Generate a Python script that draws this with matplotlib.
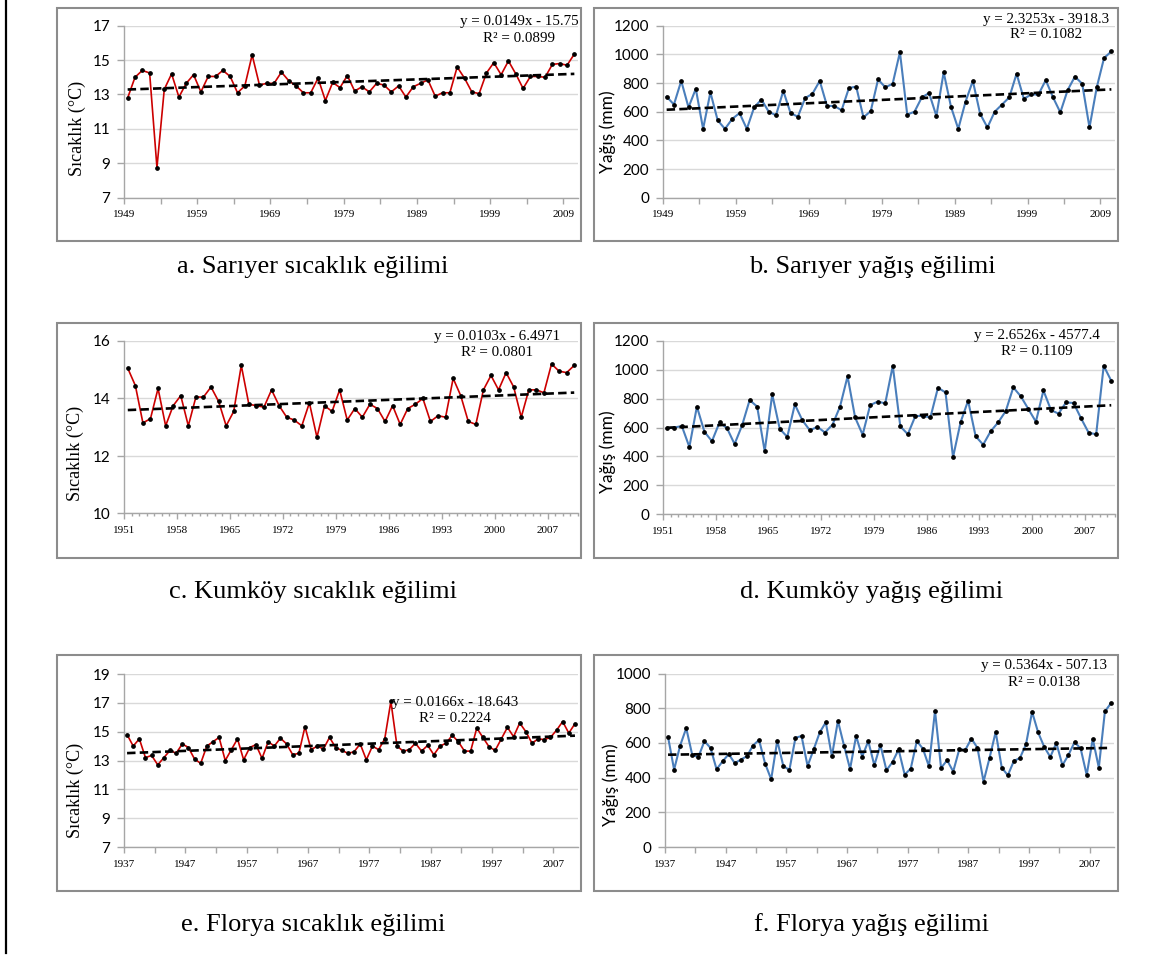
import numpy as np
import matplotlib
matplotlib.use("Agg")
import matplotlib.pyplot as plt
from matplotlib.patches import Rectangle
from matplotlib.lines import Line2D

# --- data ---
sariyer_start = 1949
sariyer_temp = [12.8, 14.0, 14.4, 14.25, 8.75, 13.3, 14.2, 12.85, 13.65, 14.15,
                13.15, 14.05, 14.05, 14.4, 14.05, 13.1, 13.5, 15.3, 13.55, 13.65,
                13.65, 14.3, 13.8, 13.5, 13.1, 13.1, 13.95, 12.65, 13.7, 13.4,
                14.1, 13.2, 13.45, 13.15, 13.65, 13.55, 13.15, 13.5, 12.85, 13.45,
                13.65, 13.85, 12.9, 13.1, 13.1, 14.6, 13.95, 13.15, 13.05, 14.25,
                14.85, 14.15, 14.95, 14.2, 13.35, 14.05, 14.05, 14.0, 14.75, 14.8,
                14.7, 15.35]
sariyer_prec = [705, 650, 815, 630, 760, 480, 735, 540, 480, 550,
                590, 480, 630, 685, 600, 575, 745, 590, 565, 695,
                725, 815, 640, 640, 610, 765, 775, 560, 605, 825,
                770, 795, 1015, 580, 600, 700, 730, 570, 875, 635,
                480, 670, 815, 585, 490, 600, 650, 700, 865, 690,
                720, 720, 820, 700, 595, 750, 845, 795, 490, 770,
                975, 1020]

kumkoy_start = 1951
kumkoy_temp = [15.05, 14.45, 13.15, 13.3, 14.35, 13.05, 13.75, 14.1, 13.05, 14.05,
               14.05, 14.4, 13.9, 13.05, 13.55, 15.15, 13.8, 13.75, 13.7, 14.3,
               13.75, 13.35, 13.25, 13.05, 13.85, 12.65, 13.75, 13.55, 14.3, 13.25,
               13.65, 13.35, 13.8, 13.65, 13.2, 13.75, 13.1, 13.65, 13.8, 14.0,
               13.2, 13.4, 13.35, 14.7, 14.1, 13.2, 13.1, 14.3, 14.8, 14.3,
               14.9, 14.4, 13.35, 14.3, 14.3, 14.2, 15.2, 14.95, 14.9, 15.15]
kumkoy_prec = [595, 600, 610, 465, 745, 570, 505, 635, 595, 485,
               615, 790, 745, 435, 830, 590, 535, 760, 650, 580,
               605, 565, 620, 745, 955, 670, 550, 755, 780, 767,
               1028, 608, 553, 680, 680, 670, 876, 843, 394, 636,
               786, 539, 481, 574, 636, 714, 878, 816, 728, 640,
               857, 721, 696, 774, 770, 663, 564, 553, 1028, 924]

florya_start = 1937
florya_temp = [14.8, 14.0, 14.5, 13.2, 13.35, 12.7, 13.2, 13.7, 13.5, 14.15,
               13.9, 13.1, 12.8, 14.0, 14.3, 14.6, 13.0, 13.75, 14.5, 13.05,
               13.9, 14.1, 13.15, 14.3, 14.0, 14.55, 14.15, 13.4, 13.5, 15.35,
               13.75, 14.0, 13.8, 14.6, 13.9, 13.7, 13.5, 13.6, 14.15, 13.05,
               14.0, 13.75, 14.5, 17.1, 14.0, 13.65, 13.75, 14.2, 13.65, 14.05,
               13.4, 14.0, 14.2, 14.75, 14.3, 13.65, 13.65, 15.25, 14.6, 13.95,
               13.7, 14.5, 15.3, 14.65, 15.6, 15.0, 14.2, 14.5, 14.45, 14.6,
               15.1, 15.7, 14.9, 15.55]
florya_prec = [635, 446, 585, 685, 529, 519, 610, 571, 448, 494,
               535, 483, 504, 523, 585, 617, 481, 390, 613, 467,
               444, 629, 640, 467, 562, 660, 719, 523, 727, 585,
               450, 640, 521, 610, 471, 588, 442, 490, 562, 417,
               452, 610, 567, 465, 785, 456, 500, 435, 563, 560,
               625, 571, 377, 515, 663, 458, 413, 496, 513, 592,
               779, 660, 577, 519, 600, 471, 531, 604, 568, 415,
               623, 457, 781, 829]

# trend line equations printed on the charts
slopes = [0.0149, 2.3253, 0.0103, 2.6526, 0.0166, 0.5364]
intercepts = [-15.75, -3918.3, -6.4971, -4577.4, -18.643, -507.13]
r2_values = [0.0899, 0.1082, 0.0801, 0.1109, 0.2224, 0.0138]

captions = ["a. Sarıyer sıcaklık eğilimi", "b. Sarıyer yağış eğilimi",
            "c. Kumköy sıcaklık eğilimi", "d. Kumköy yağış eğilimi",
            "e. Florya sıcaklık eğilimi", "f. Florya yağış eğilimi"]

W, H = 1169, 955
SERIF = "Liberation Serif"
SANS = "Lato"
RED = "#CC0000"
BLUE = "#4A7EBB"

# per panel: start year, values, kind, label step, minor step, y range, y step
panels = [
    (sariyer_start, sariyer_temp, "temp", 10, 5, (7, 17), 2),
    (sariyer_start, sariyer_prec, "prec", 10, 5, (0, 1200), 200),
    (kumkoy_start, kumkoy_temp, "temp", 7, 1, (10, 16), 2),
    (kumkoy_start, kumkoy_prec, "prec", 7, 1, (0, 1200), 200),
    (florya_start, florya_temp, "temp", 10, 5, (7, 19), 2),
    (florya_start, florya_prec, "prec", 10, 5, (0, 1000), 200),
]

# layout in pixels: box (l, t, r, b), plot (l, t, r, b), ylabel (x, y), eq centre (x, y), caption (x, y)
layout = [
    ((57, 8, 581, 241), (124, 25.7, 578, 197.7), (77, 128), (519, 22), (313, 267)),
    ((594, 8, 1118, 241), (663, 25.7, 1115, 197.7), (608, 132), (1046, 19), (872, 267)),
    ((57, 323, 581, 558), (124, 341, 578, 513.5), (75, 453), (497, 336), (313, 592)),
    ((594, 323, 1118, 558), (663, 341, 1115, 514), (608, 452), (1037, 335), (872, 592)),
    ((57, 655, 581, 891), (124, 674, 578, 847), (75, 790), (455, 702), (313, 925)),
    ((594, 655, 1118, 891), (665, 673.5, 1114, 847), (611, 785), (1044, 666), (872, 925)),
]


def rect(l, t, r, b):
    return [l / W, 1 - b / H, (r - l) / W, (b - t) / H]


fig = plt.figure(figsize=(W / 100, H / 100), dpi=100)

# left border line of the table
fig.add_artist(Line2D([6 / W, 6 / W], [1, 1 - 953 / H], color="black", lw=1.6))

for i, (start, vals, kind, step, minor, ylim, ystep) in enumerate(panels):
    box, plot, ylab, eq, cap = layout[i]
    bl, bt, br, bb = box
    fig.add_artist(Rectangle((bl / W, 1 - bb / H), (br - bl) / W, (bb - bt) / H,
                             transform=fig.transFigure, fill=False,
                             edgecolor="#8c8c8c", lw=1.5))

    ax = fig.add_axes(rect(*plot))
    x = np.arange(start, start + len(vals))
    color = RED if kind == "temp" else BLUE
    lw = 1.2 if kind == "temp" else 1.5
    ax.plot(x, vals, color=color, lw=lw, marker="o", ms=2.4,
            mfc="black", mec="black", zorder=3)

    # linear trend from the printed equation
    tx = np.array([x[0], x[-1]])
    ax.plot(tx, slopes[i] * tx + intercepts[i], color="black", lw=1.9,
            dashes=(3.2, 1.6), zorder=4)

    ax.set_xlim(x[0] - 0.5, x[-1] + 0.5)
    ax.set_ylim(*ylim)
    ax.set_yticks(np.arange(ylim[0], ylim[1] + 1, ystep))
    ax.grid(axis="y", color="#d9d9d9", lw=1.0)
    ax.set_axisbelow(True)

    major = np.arange(x[0] - 0.5, x[-1] + 0.51, step)
    ax.set_xticks(major)
    ax.set_xticklabels([str(int(v + 0.5)) for v in major])
    ax.set_xticks(np.arange(x[0] - 0.5, x[-1] + 0.51, minor), minor=True)

    for s in ["top", "right"]:
        ax.spines[s].set_visible(False)
    for s in ["left", "bottom"]:
        ax.spines[s].set_color("#a6a6a6")
        ax.spines[s].set_linewidth(1.0)

    ax.tick_params(axis="y", length=5, width=1.0, color="#a6a6a6", pad=5,
                   labelsize=11, labelfontfamily=SANS)
    ax.tick_params(axis="x", which="major", length=4, width=1.0, color="#a6a6a6",
                   pad=5, labelsize=8, labelfontfamily=SERIF)
    ax.tick_params(axis="x", which="minor", length=4 if minor > 1 else 2.5,
                   width=1.0, color="#a6a6a6")

    if kind == "temp":
        fig.text(ylab[0] / W, 1 - ylab[1] / H, "Sıcaklık (°C)", rotation=90,
                 ha="center", va="center", fontsize=13, family=SERIF)
    else:
        fig.text(ylab[0] / W, 1 - ylab[1] / H, "Yağış (mm)", rotation=90,
                 ha="center", va="center", fontsize=12.5, family=SANS)

    eq_text = f"y = {slopes[i]}x - {abs(intercepts[i])}"
    fig.text(eq[0] / W, 1 - eq[1] / H, eq_text, ha="center", va="center",
             fontsize=10.8, family=SERIF)
    fig.text(eq[0] / W, 1 - (eq[1] + 16) / H, f"R² = {r2_values[i]}",
             ha="center", va="center", fontsize=10.8, family=SERIF)

    fig.text(cap[0] / W, 1 - cap[1] / H, captions[i], ha="center", va="center",
             fontsize=19, family=SERIF)

fig.savefig("out.png", dpi=100)
